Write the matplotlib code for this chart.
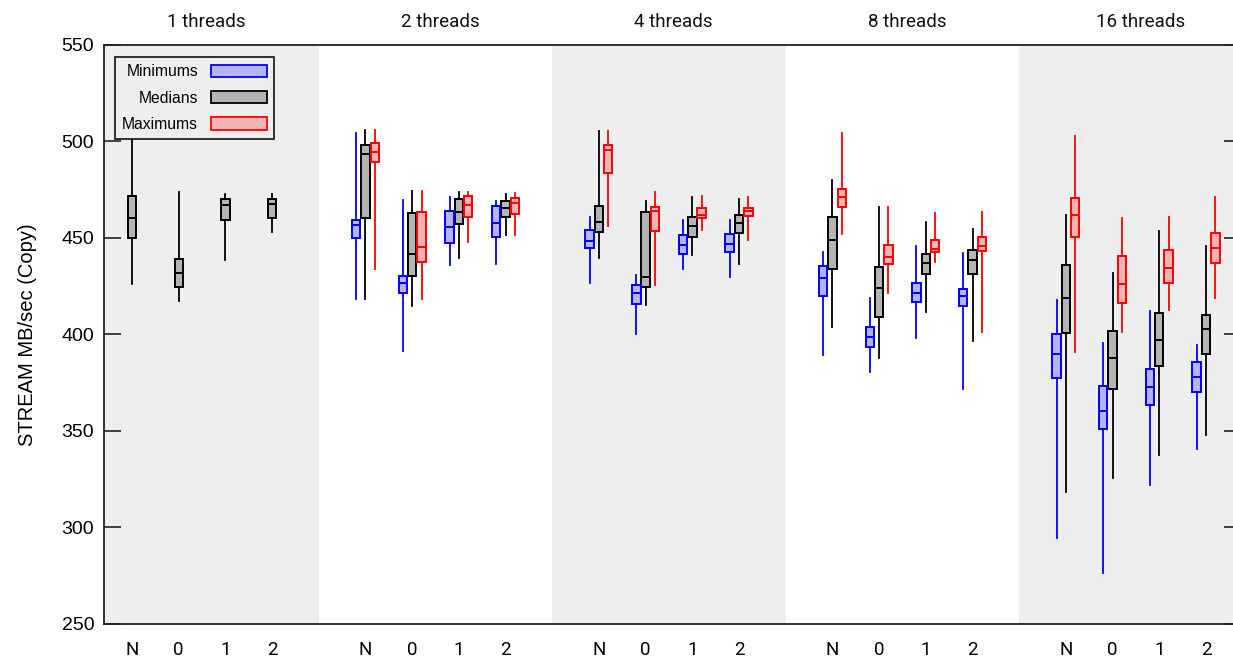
import matplotlib
matplotlib.use("Agg")
import matplotlib.pyplot as plt
from matplotlib.patches import Patch
import matplotlib.transforms as mtransforms

# Thread-count groups and NUMA placements within each group
thread_groups = ["1 threads", "2 threads", "4 threads", "8 threads", "16 threads"]
placements = ["N", "0", "1", "2"]

# Box statistics per placement: (low whisker, q1, median, q3, high whisker)
# Medians of runs: all five thread groups
median_stats = [
    (425.9, 450.0, 460.4, 471.6, 505.7), (417.2, 424.3, 431.6, 438.8, 473.7),
    (438.3, 459.2, 467.1, 469.9, 472.5), (452.9, 460.0, 467.3, 469.9, 472.8),
    (418.3, 460.2, 493.5, 498.1, 505.7), (414.7, 430.2, 441.6, 463.0, 474.2),
    (439.5, 457.1, 463.3, 469.9, 473.7), (451.4, 460.9, 465.5, 468.9, 472.8),
    (439.7, 452.9, 458.1, 466.4, 505.2), (415.0, 424.6, 429.7, 463.3, 469.0),
    (440.9, 450.4, 456.0, 460.9, 471.2), (436.4, 452.4, 457.8, 461.5, 470.2),
    (403.9, 433.6, 448.7, 460.9, 479.7), (387.7, 409.0, 424.1, 435.0, 465.9),
    (411.4, 431.0, 436.7, 441.7, 458.0), (396.4, 431.2, 438.5, 443.8, 454.3),
    (318.4, 400.5, 418.6, 435.9, 461.9), (325.8, 371.7, 387.9, 401.7, 431.9),
    (337.5, 383.4, 397.0, 411.2, 453.6), (347.9, 389.8, 402.7, 410.1, 445.7),
]
# Minimums of runs: thread groups 2..16
minimum_stats = [
    (418.3, 449.7, 456.6, 459.2, 504.0), (391.2, 421.2, 426.7, 430.3, 469.5),
    (435.7, 447.3, 455.7, 463.7, 471.1), (436.4, 450.4, 457.6, 466.4, 469.2),
    (426.6, 444.7, 448.3, 454.0, 460.7), (400.2, 415.8, 421.4, 425.7, 430.7),
    (433.6, 441.4, 446.1, 451.6, 459.0), (429.8, 442.4, 446.6, 452.1, 459.2),
    (389.1, 419.7, 429.1, 435.5, 442.8), (380.6, 393.4, 398.6, 403.8, 418.6),
    (398.2, 416.6, 421.4, 426.6, 445.7), (371.8, 414.5, 420.0, 423.4, 442.1),
    (294.4, 377.2, 390.0, 400.2, 417.6), (276.6, 350.8, 360.5, 373.1, 395.3),
    (322.0, 363.6, 372.6, 382.2, 411.9), (340.5, 370.3, 378.0, 385.7, 394.3),
]
# Maximums of runs: thread groups 2..16
maximum_stats = [
    (434.0, 489.2, 494.5, 498.9, 505.7), (418.4, 437.6, 445.2, 463.5, 474.2),
    (447.9, 460.6, 466.9, 471.4, 473.7), (451.4, 462.1, 468.0, 470.4, 473.1),
    (456.0, 483.5, 495.2, 498.0, 505.2), (425.7, 453.5, 463.8, 466.0, 473.7),
    (454.1, 460.4, 461.9, 465.2, 471.6), (448.7, 461.2, 463.8, 465.5, 470.9),
    (452.1, 465.7, 470.9, 475.2, 504.0), (421.5, 436.5, 440.2, 446.4, 465.9),
    (437.6, 442.8, 444.3, 449.0, 462.8), (401.0, 443.1, 445.9, 450.2, 463.5),
    (391.0, 450.5, 461.7, 470.5, 502.6), (401.2, 416.0, 426.1, 440.5, 460.0),
    (412.4, 426.6, 434.3, 443.8, 460.9), (418.6, 437.1, 444.8, 452.3, 470.9),
]

yticks = [250, 300, 350, 400, 450, 500, 550]

GROUP_STEP = 5
SIDE_OFFSET = 0.2
BOX_WIDTH = 0.18

styles = {
    "Minimums": dict(edge="#0000ff", face="#b4b4f2"),
    "Medians": dict(edge="#000000", face="#b4b4b4"),
    "Maximums": dict(edge="#ff0000", face="#f4b4b4"),
}

fig = plt.figure(figsize=(12.33, 6.58), dpi=100)
W, H = 1233, 658
ax = fig.add_axes([104 / W, 1 - 624 / H, (1241 - 104) / W, (624 - 44.5) / H])

xmin, xmax = -0.6, 23.75
ax.set_xlim(xmin, xmax)
ax.set_ylim(250, 550)

# alternating shaded bands behind thread groups
bounds = [xmin] + [g * GROUP_STEP - 1 for g in range(1, len(thread_groups))] + [xmax]
for g in range(len(thread_groups)):
    if g % 2 == 0:
        ax.axvspan(bounds[g], bounds[g + 1], color="#eeeeee", zorder=0, lw=0)


def to_stats(rows):
    return [dict(whislo=r[0], q1=r[1], med=r[2], q3=r[3], whishi=r[4], fliers=[]) for r in rows]


def draw(rows, positions, name):
    st = styles[name]
    ax.bxp(
        to_stats(rows), positions=positions, widths=BOX_WIDTH, showcaps=False,
        showfliers=False, patch_artist=True, manage_ticks=False,
        boxprops=dict(facecolor=st["face"], edgecolor=st["edge"], linewidth=1.4),
        whiskerprops=dict(color=st["edge"], linewidth=1.3),
        medianprops=dict(color=st["edge"], linewidth=1.4),
        zorder=3,
    )


# medians for all groups (centred)
med_pos = [g * GROUP_STEP + i for g in range(len(thread_groups)) for i in range(len(placements))]
draw(median_stats, med_pos, "Medians")
# minimums/maximums for multi-thread groups
side_pos = [g * GROUP_STEP + i for g in range(1, len(thread_groups)) for i in range(len(placements))]
draw(minimum_stats, [p - SIDE_OFFSET for p in side_pos], "Minimums")
draw(maximum_stats, [p + SIDE_OFFSET for p in side_pos], "Maximums")

# x tick labels
ax.set_xticks(med_pos)
ax.set_xticklabels(placements * len(thread_groups), family="Roboto", fontsize=13.5)
ax.tick_params(axis="x", length=0, pad=12)

# y axis
ax.set_yticks(yticks)
ax.set_yticklabels([str(v) for v in yticks], family="Liberation Sans", fontsize=14)
ax.tick_params(axis="y", direction="in", length=12, width=1.2, pad=7,
               right=True, left=True, color="#222222")
ax.set_ylabel("STREAM MB/sec (Copy)", family="Liberation Sans", fontsize=14.5, labelpad=18)

for s in ax.spines.values():
    s.set_linewidth(1.3)
    s.set_color("#222222")

# group titles
trans = mtransforms.blended_transform_factory(ax.transData, ax.transAxes)
for g, title in enumerate(thread_groups):
    ax.text(g * GROUP_STEP + 1.6, 1.038, title, transform=trans, ha="center",
            va="center", family="Roboto", fontsize=13.5, color="#111111")

# legend
handles = [Patch(facecolor=styles[n]["face"], edgecolor=styles[n]["edge"], linewidth=1.3, label=n)
           for n in ["Minimums", "Medians", "Maximums"]]
leg = ax.legend(handles=handles, loc="upper left", bbox_to_anchor=(0.0098, 0.978),
                markerfirst=False, frameon=True, fancybox=False,
                handlelength=3.6, handleheight=0.85, labelspacing=0.72,
                borderpad=0.45, handletextpad=0.8, borderaxespad=0.0,
                prop=dict(family="Liberation Sans", size=11.3))
leg.get_frame().set_edgecolor("#222222")
leg.get_frame().set_linewidth(1.3)
leg.get_frame().set_facecolor("#eeeeee")
leg.get_frame().set_alpha(1)
for t in leg.get_texts():
    t.set_ha("right")
leg.set_zorder(5)

fig.savefig("out.png", dpi=100)
